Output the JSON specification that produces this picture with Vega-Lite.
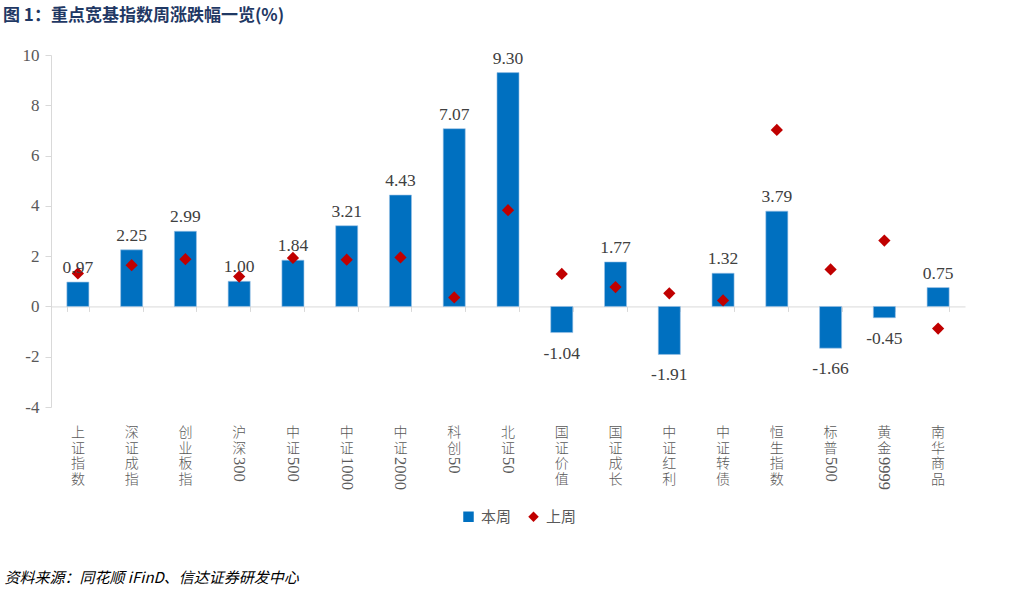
{
  "$schema": "https://vega.github.io/schema/vega-lite/v6.json",
  "width": 914,
  "height": 352,
  "autosize": {"type": "none"},
  "padding": {"left": 51, "top": 55, "right": 66, "bottom": 184},
  "background": "white",
  "config": {
    "view": {"stroke": null},
    "locale": {
      "number": {"decimal": ".", "thousands": ",", "grouping": [3], "currency": ["$", ""], "minus": "-"}
    }
  },
  "title": {
    "text": "图 1：重点宽基指数周涨跌幅一览(%)",
    "anchor": "start",
    "frame": "group",
    "dx": -48,
    "offset": 21,
    "font": "Noto Sans CJK SC",
    "fontWeight": "bold",
    "fontSize": 17,
    "color": "#1F3864"
  },
  "data": {
    "values": [
      {"name": "上证指数", "cn": ["上","证","指","数"], "num": "", "本周": 0.97, "上周": 1.31},
      {"name": "深证成指", "cn": ["深","证","成","指"], "num": "", "本周": 2.25, "上周": 1.64},
      {"name": "创业板指", "cn": ["创","业","板","指"], "num": "", "本周": 2.99, "上周": 1.88},
      {"name": "沪深300", "cn": ["沪","深"], "num": "300", "本周": 1.00, "上周": 1.19},
      {"name": "中证500", "cn": ["中","证"], "num": "500", "本周": 1.84, "上周": 1.93},
      {"name": "中证1000", "cn": ["中","证"], "num": "1000", "本周": 3.21, "上周": 1.86},
      {"name": "中证2000", "cn": ["中","证"], "num": "2000", "本周": 4.43, "上周": 1.95},
      {"name": "科创50", "cn": ["科","创"], "num": "50", "本周": 7.07, "上周": 0.36},
      {"name": "北证50", "cn": ["北","证"], "num": "50", "本周": 9.30, "上周": 3.83},
      {"name": "国证价值", "cn": ["国","证","价","值"], "num": "", "本周": -1.04, "上周": 1.29},
      {"name": "国证成长", "cn": ["国","证","成","长"], "num": "", "本周": 1.77, "上周": 0.77},
      {"name": "中证红利", "cn": ["中","证","红","利"], "num": "", "本周": -1.91, "上周": 0.52},
      {"name": "中证转债", "cn": ["中","证","转","债"], "num": "", "本周": 1.32, "上周": 0.24},
      {"name": "恒生指数", "cn": ["恒","生","指","数"], "num": "", "本周": 3.79, "上周": 7.02},
      {"name": "标普500", "cn": ["标","普"], "num": "500", "本周": -1.66, "上周": 1.47},
      {"name": "黄金9999", "cn": ["黄","金"], "num": "9999", "本周": -0.45, "上周": 2.62},
      {"name": "南华商品", "cn": ["南","华","商","品"], "num": "", "本周": 0.75, "上周": -0.88}
    ]
  },
  "transform": [{"fold": ["本周", "上周"], "as": ["key", "value"]}],
  "encoding": {
    "x": {
      "field": "name",
      "type": "nominal",
      "sort": null,
      "scale": {"paddingInner": 0.59, "paddingOuter": 0.295},
      "axis": {
        "labels": false,
        "offset": -100.57,
        "tickBand": "extent",
        "ticks": true,
        "tickSize": 5,
        "tickColor": "#D9D9D9",
        "domainColor": "#D9D9D9",
        "grid": false,
        "title": "资料来源：同花顺 iFinD、信达证券研发中心",
        "titleX": -47,
        "titleY": 271,
        "titleAlign": "left",
        "titleAnchor": "start",
        "titleBaseline": "middle",
        "titleFont": "Noto Sans CJK SC",
        "titleFontStyle": "italic",
        "titleFontWeight": "normal",
        "titleFontSize": 15,
        "titleColor": "#000000"
      }
    }
  },
  "layer": [
    {
      "transform": [{"filter": "datum.key === '本周'"}],
      "mark": {"type": "bar", "stroke": "#9DC3E6", "strokeWidth": 0.6},
      "encoding": {
        "y": {
          "field": "value",
          "type": "quantitative",
          "scale": {"domain": [-4, 10], "nice": false, "zero": false},
          "axis": {
            "values": [-4, -2, 0, 2, 4, 6, 8, 10],
            "grid": false,
            "title": null,
            "labelFont": "Liberation Serif",
            "labelFontSize": 17,
            "labelColor": "#595959",
            "labelPadding": 6,
            "tickSize": 6,
            "tickColor": "#D9D9D9",
            "domainColor": "#D9D9D9"
          }
        },
        "color": {
          "field": "key",
          "type": "nominal",
          "scale": {"domain": ["本周", "上周"], "range": ["#0070C0", "#C00000"]},
          "legend": {
            "title": null,
            "orient": "none",
            "direction": "horizontal",
            "legendX": 410,
            "legendY": 454,
            "labelFont": "Noto Sans CJK SC",
            "labelFontSize": 15,
            "labelColor": "#595959",
            "symbolSize": 110,
            "symbolStrokeWidth": 0,
            "columnPadding": 14,
            "labelOffset": 5
          }
        }
      }
    },
    {
      "transform": [{"filter": "datum.key === '上周'"}],
      "mark": {"type": "point", "filled": true, "size": 150, "opacity": 1},
      "encoding": {
        "y": {"field": "value", "type": "quantitative"},
        "color": {"field": "key", "type": "nominal"},
        "shape": {
          "field": "key",
          "type": "nominal",
          "scale": {"domain": ["本周", "上周"], "range": ["square", "diamond"]}
        }
      }
    },
    {
      "transform": [{"filter": "datum.key === '本周' && datum.value >= 0"}],
      "mark": {"type": "text", "baseline": "bottom", "dy": -5, "font": "Liberation Serif", "fontSize": 17.5, "color": "#404040"},
      "encoding": {
        "y": {"field": "value", "type": "quantitative"},
        "text": {"field": "value", "type": "quantitative", "format": ".2f"}
      }
    },
    {
      "transform": [{"filter": "datum.key === '本周' && datum.value < 0"}],
      "mark": {"type": "text", "baseline": "top", "dy": 12, "font": "Liberation Serif", "fontSize": 17.5, "color": "#404040"},
      "encoding": {
        "y": {"field": "value", "type": "quantitative"},
        "text": {"field": "value", "type": "quantitative", "format": ".2f"}
      }
    },
    {
      "transform": [{"filter": "datum.key === '本周'"}],
      "mark": {"type": "text", "baseline": "top", "dy": 19, "lineHeight": 15.5, "font": "Noto Sans CJK SC", "fontWeight": 300, "fontSize": 14, "color": "#595959"},
      "encoding": {
        "y": {"datum": -4},
        "text": {"field": "cn"}
      }
    },
    {
      "transform": [{"filter": "datum.key === '本周' && datum.num !== ''"}],
      "mark": {"type": "text", "angle": 90, "align": "left", "baseline": "middle", "dx": 50, "font": "Liberation Serif", "fontSize": 16.5, "color": "#595959"},
      "encoding": {
        "y": {"datum": -4},
        "text": {"field": "num"}
      }
    }
  ]
}
